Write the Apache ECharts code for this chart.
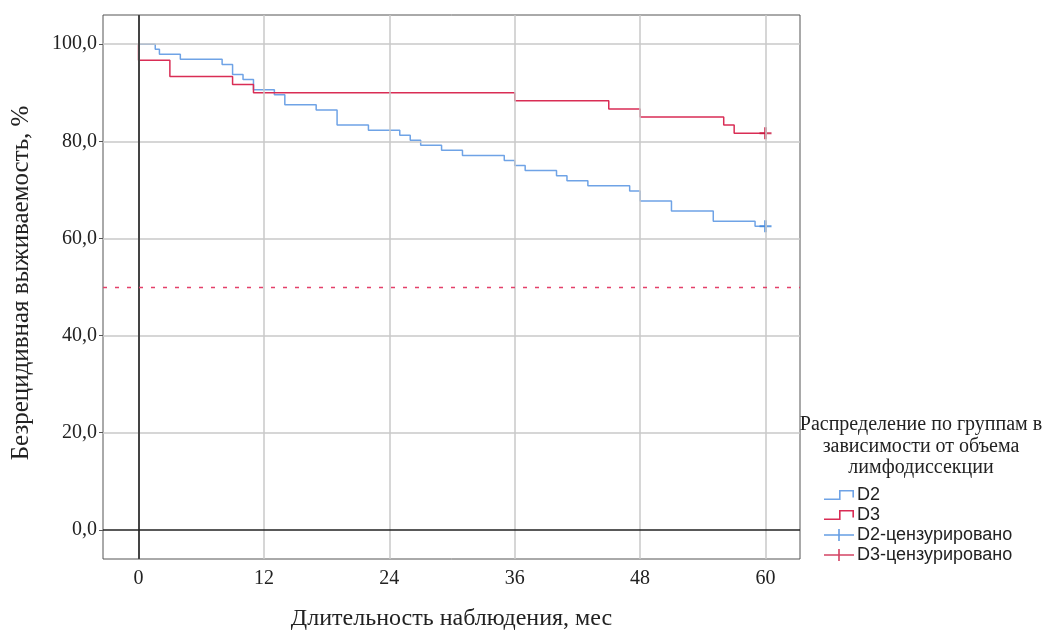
<!DOCTYPE html>
<html>
<head>
<meta charset="utf-8">
<script src="https://cdn.jsdelivr.net/npm/echarts@6/dist/echarts.min.js"></script>
<style>
  html, body { margin: 0; padding: 0; background: #fff; }
  #chart { width: 1049px; height: 630px; }
</style>
</head>
<body>
<div id="chart"></div>
<script>
// месяцы и значения выживаемости (%) в точках изменения кривой
var d2Time = [0, 1.6, 2, 4, 8, 9, 10, 11, 13, 14, 17, 19, 22, 25, 26, 27, 29, 31, 35, 36, 37, 40, 41, 43, 47, 48, 51, 55, 59, 60];
var d2Surv = [100, 98.96, 97.92, 96.88, 95.83, 93.75, 92.71, 90.63, 89.58, 87.5, 86.46, 83.33, 82.29, 81.25, 80.21, 79.17, 78.13, 77.08, 76.04, 75.0, 73.96, 72.92, 71.88, 70.83, 69.79, 67.71, 65.63, 63.54, 62.5, 62.5];

var d3Time = [0, 0, 3, 9, 11, 36, 45, 48, 56, 57, 60];
var d3Surv = [100, 96.67, 93.33, 91.67, 90.0, 88.33, 86.67, 85.0, 83.33, 81.67, 81.67];

// цензурированные наблюдения
var d2Cens = [[60, 62.5]];
var d3Cens = [[60, 81.67]];

var xTicks = [0, 12, 24, 36, 48, 60];
var yTicks = [0, 20, 40, 60, 80, 100];

var blue = '#6fa3e6';
var red = '#d92d55';
var blueMark = '#3f86dc';
var redMark = '#c8143c';

function pairs(t, v) {
    var out = [];
    for (var i = 0; i < t.length; i++) out.push([t[i], v[i]]);
    return out;
}

var stepIcon = 'path://M0,10h14v-8h14v7h-1.5v-5.5h-11v8h-15.5z';
var plusIcon = 'path://M0,5.3h30v1.5h-30z M14.2,0h1.6v12h-1.6z';
var plusSymbol = 'path://M0,5h12v2h-12z M4.6,0h2.8v12h-2.8z';

var gridLines = [];
xTicks.forEach(function (v) {
    if (v !== 0) gridLines.push({ xAxis: v });
});
yTicks.forEach(function (v) {
    if (v !== 0) gridLines.push({ yAxis: v });
});

const chart = echarts.init(document.getElementById('chart'));

var option = {
    animation: false,
    grid: {
        left: 103, right: 249, top: 15, bottom: 71,
        outerBoundsMode: 'none',
        containLabel: false,
        show: true,
        borderColor: '#555',
        borderWidth: 1
    },
    xAxis: {
        type: 'value',
        min: -3.4,
        max: 63.3,
        name: 'Длительность наблюдения, мес',
        nameLocation: 'middle',
        nameGap: 48,
        nameTextStyle: { fontFamily: 'Liberation Serif', fontSize: 24, color: '#222' },
        axisLine: { show: false, onZero: false },
        splitLine: { show: false },
        axisTick: { show: false },
        axisLabel: {
            customValues: xTicks,
            fontFamily: 'Liberation Serif',
            fontSize: 20,
            color: '#222',
            margin: 10
        }
    },
    yAxis: {
        type: 'value',
        min: -6,
        max: 106,
        name: 'Безрецидивная выживаемость, %',
        nameLocation: 'middle',
        nameGap: 69,
        nameTextStyle: { fontFamily: 'Liberation Serif', fontSize: 25, color: '#222', padding: [0, 0, 0, 8] },
        axisLine: { show: false, onZero: false },
        splitLine: { show: false },
        axisTick: {
            show: true,
            customValues: yTicks,
            length: 4,
            lineStyle: { color: '#555' }
        },
        axisLabel: {
            customValues: yTicks,
            fontFamily: 'Liberation Serif',
            fontSize: 20,
            color: '#222',
            margin: 6,
            formatter: function (v) { return v.toFixed(1).replace('.', ','); }
        }
    },
    legend: {
        orient: 'vertical',
        left: 819,
        top: 481,
        itemWidth: 30,
        itemHeight: 12,
        itemGap: 2,
        textStyle: { fontFamily: 'Liberation Sans', fontSize: 18, color: '#222', padding: [0, 0, 0, -2] },
        data: [
            { name: 'D2', icon: stepIcon },
            { name: 'D3', icon: stepIcon },
            { name: 'D2-цензурировано', icon: plusIcon },
            { name: 'D3-цензурировано', icon: plusIcon }
        ]
    },
    graphic: [{
        type: 'text',
        x: 921,
        y: 414,
        style: {
            text: 'Распределение по группам в\nзависимости от объема\nлимфодиссекции',
            font: '20px "Liberation Serif"',
            fill: '#222',
            align: 'center',
            lineHeight: 21.5
        }
    }],
    series: [
        {
            name: 'grid',
            type: 'line',
            data: [],
            silent: true,
            z: 1,
            markLine: {
                silent: true,
                symbol: 'none',
                label: { show: false },
                lineStyle: { color: '#c8c8c8', width: 1.5, type: 'solid' },
                data: gridLines.concat([
                    { xAxis: 0, lineStyle: { color: '#444', width: 2, type: 'solid' } },
                    { yAxis: 0, lineStyle: { color: '#222', width: 1.5, type: 'solid' } },
                    { yAxis: 50, lineStyle: { color: '#e4406a', width: 1.4, type: [4, 8] } }
                ])
            }
        },
        {
            name: 'D2',
            type: 'line',
            step: 'end',
            data: pairs(d2Time, d2Surv),
            showSymbol: false,
            color: blue,
            lineStyle: { color: blue, width: 1.5 },
            z: 3
        },
        {
            name: 'D3',
            type: 'line',
            step: 'end',
            data: pairs(d3Time, d3Surv),
            showSymbol: false,
            color: red,
            lineStyle: { color: red, width: 1.5 },
            z: 3
        },
        {
            name: 'D2-цензурировано',
            type: 'scatter',
            data: d2Cens,
            symbol: plusSymbol,
            symbolSize: 12,
            color: blueMark,
            z: 4
        },
        {
            name: 'D3-цензурировано',
            type: 'scatter',
            data: d3Cens,
            symbol: plusSymbol,
            symbolSize: 12,
            color: redMark,
            z: 4
        }
    ]
};
chart.setOption(option);
</script>
</body>
</html>
